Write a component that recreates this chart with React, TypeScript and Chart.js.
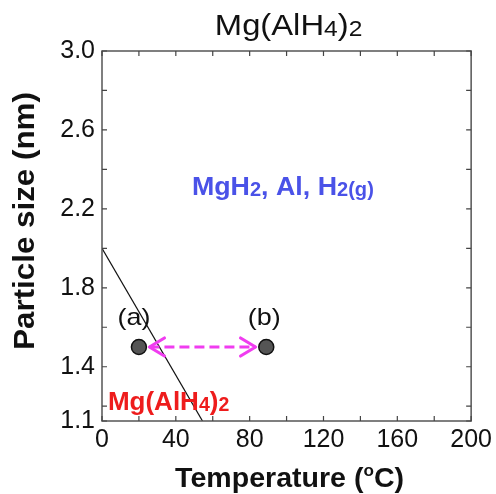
import React, { useEffect, useRef } from "react";
import { Chart, registerables } from "chart.js";

Chart.register(...registerables);

// ---- data ----
const xTickValues = [0, 20, 40, 60, 80, 100, 120, 140, 160, 180, 200];
const xTickLabels = ["0", "", "40", "", "80", "", "120", "", "160", "", "200"];
const yTickValues = [1.125, 1.2, 1.4, 1.6, 1.8, 2.0, 2.2, 2.4, 2.6, 2.8, 3.0];
const yTickLabels = ["1.1", "", "1.4", "", "1.8", "", "2.2", "", "2.6", "", "3.0"];

const boundaryX = [0, 56];
const boundaryY = [2.0, 1.1];

const pointX = [20, 89];
const pointY = [1.5, 1.5];
const pointLabels = ["(a)", "(b)"];

const arrowX = [25.7, 83.2];
const arrowY = [1.5, 1.5];

const X_MIN = 0, X_MAX = 200, Y_MIN = 1.125, Y_MAX = 3.0;

const FONT = '"Liberation Sans", Arial, sans-serif';

type Seg = { t: string; sub?: boolean; sup?: boolean };

function drawRich(ctx: CanvasRenderingContext2D, segs: Seg[], x: number, y: number, size: number, weight: string, color: string, align: "left" | "center", stretch = 1) {
  const szOf = (s: Seg) => (s.sub ? size * 0.75 : s.sup ? size * 0.6 : size);
  const widthOf = (s: Seg) => {
    ctx.font = `${weight} ${szOf(s)}px ${FONT}`;
    return ctx.measureText(s.t).width * stretch;
  };
  const total = segs.reduce((a, s) => a + widthOf(s), 0);
  let cx = align === "center" ? x - total / 2 : x;
  ctx.save();
  ctx.fillStyle = color;
  ctx.textBaseline = "alphabetic";
  ctx.textAlign = "left";
  for (const s of segs) {
    ctx.font = `${weight} ${szOf(s)}px ${FONT}`;
    const dy = s.sub ? size * 0.05 : s.sup ? -size * 0.4 : 0;
    ctx.save();
    ctx.translate(cx, y + dy);
    ctx.scale(stretch, 1);
    ctx.fillText(s.t, 0, 0);
    ctx.restore();
    cx += ctx.measureText(s.t).width * stretch;
  }
  ctx.restore();
  return total;
}

const overlayPlugin = {
  id: "overlay",
  afterDatasetsDraw(chart: any) {
    const ctx: CanvasRenderingContext2D = chart.ctx;
    const xs = chart.scales.x;
    const ys = chart.scales.y;
    const a = chart.chartArea;

    // frame
    ctx.save();
    ctx.strokeStyle = "#555";
    ctx.lineWidth = 1.5;
    ctx.strokeRect(a.left, a.top, a.right - a.left, a.bottom - a.top);
    // inward ticks
    ctx.strokeStyle = "#444";
    ctx.lineWidth = 1.2;
    const tl = 5;
    ctx.beginPath();
    for (const v of xTickValues) {
      const px = xs.getPixelForValue(v);
      ctx.moveTo(px, a.bottom);
      ctx.lineTo(px, a.bottom - tl);
      ctx.moveTo(px, a.top);
      ctx.lineTo(px, a.top + tl);
    }
    for (const v of yTickValues) {
      const py = ys.getPixelForValue(v);
      ctx.moveTo(a.left, py);
      ctx.lineTo(a.left + tl, py);
      ctx.moveTo(a.right, py);
      ctx.lineTo(a.right - tl, py);
    }
    ctx.stroke();
    ctx.restore();

    // arrowheads
    const meta = chart.getDatasetMeta(1);
    if (meta && meta.data.length === 2) {
      const p0 = meta.data[0];
      const p1 = meta.data[1];
      ctx.save();
      ctx.strokeStyle = "#f03cf0";
      ctx.lineWidth = 3.2;
      ctx.lineCap = "round";
      ctx.lineJoin = "round";
      const hl = 15, hw = 9;
      ctx.beginPath();
      ctx.moveTo(p0.x + hl, p0.y - hw);
      ctx.lineTo(p0.x, p0.y);
      ctx.lineTo(p0.x + hl, p0.y + hw);
      ctx.moveTo(p1.x - hl, p1.y - hw);
      ctx.lineTo(p1.x, p1.y);
      ctx.lineTo(p1.x - hl, p1.y + hw);
      ctx.stroke();
      ctx.restore();
    }
  },
  afterDraw(chart: any) {
    const ctx: CanvasRenderingContext2D = chart.ctx;
    const xs = chart.scales.x;
    const ys = chart.scales.y;
    const a = chart.chartArea;
    const cxArea = (a.left + a.right) / 2;

    // title
    drawRich(ctx, [{ t: "Mg(AlH" }, { t: "4", sub: true }, { t: ")" }, { t: "2", sub: true }], cxArea + 2, 35, 29, "normal", "#111", "center", 1.13);

    // x-axis title
    drawRich(ctx, [{ t: "Temperature (" }, { t: "o", sup: true }, { t: "C)" }], cxArea + 3, 487, 28, "bold", "#111", "center", 1.02);

    // y-axis title
    ctx.save();
    ctx.translate(34, (a.top + a.bottom) / 2 - 15);
    ctx.rotate(-Math.PI / 2);
    drawRich(ctx, [{ t: "Particle size (nm)" }], 0, 0, 29, "bold", "#111", "center", 1.08);
    ctx.restore();

    // region labels
    drawRich(ctx, [{ t: "MgH" }, { t: "2", sub: true }, { t: ", Al, H" }, { t: "2(g)", sub: true }], xs.getPixelForValue(98), ys.getPixelForValue(2.27), 26, "bold", "#4a52e8", "center", 1.03);
    drawRich(ctx, [{ t: "Mg(AlH" }, { t: "4", sub: true }, { t: ")" }, { t: "2", sub: true }], xs.getPixelForValue(3.2), ys.getPixelForValue(1.18), 26, "bold", "#ee1c1c", "left", 1.0);

    // point labels
    for (let i = 0; i < pointX.length; i++) {
      drawRich(ctx, [{ t: pointLabels[i] }], xs.getPixelForValue(pointX[i]) - 5 + i * 3, ys.getPixelForValue(pointY[i]) - 22, 24, "normal", "#111", "center", 1.12);
    }
  },
};

export default function App() {
  const ref = useRef<HTMLCanvasElement | null>(null);
  useEffect(() => {
    if (!ref.current) return;
    const chart = new Chart(ref.current, {
      type: "scatter",
      data: {
        datasets: [
          {
            type: "line",
            data: boundaryX.map((x, i) => ({ x, y: boundaryY[i] })),
            borderColor: "#111",
            borderWidth: 1.2,
            pointRadius: 0,
            fill: false,
            order: 3,
          } as any,
          {
            type: "line",
            data: arrowX.map((x, i) => ({ x, y: arrowY[i] })),
            borderColor: "#f03cf0",
            borderWidth: 3,
            borderDash: [10, 5],
            pointRadius: 0,
            fill: false,
            order: 2,
          } as any,
          {
            type: "scatter",
            data: pointX.map((x, i) => ({ x, y: pointY[i] })),
            backgroundColor: "#555",
            borderColor: "#111",
            borderWidth: 1.5,
            pointRadius: 7.5,
            order: 1,
          },
        ],
      },
      options: {
        animation: false,
        responsive: true,
        maintainAspectRatio: false,
        layout: { padding: { top: 51, right: 21, left: 0, bottom: 0 } },
        plugins: { legend: { display: false }, tooltip: { enabled: false }, title: { display: false } },
        scales: {
          x: {
            type: "linear",
            min: X_MIN,
            max: X_MAX,
            grid: { display: false, drawTicks: false },
            border: { display: false },
            afterBuildTicks: (s: any) => {
              s.ticks = xTickValues.map((v) => ({ value: v }));
            },
            afterFit: (s: any) => {
              s.height = 73;
            },
            ticks: {
              autoSkip: false,
              maxRotation: 0,
              padding: 4,
              color: "#111",
              font: { family: FONT, size: 25 },
              callback: (v: any) => {
                const i = xTickValues.indexOf(Number(v));
                return i >= 0 ? xTickLabels[i] : "";
              },
            },
          },
          y: {
            type: "linear",
            min: Y_MIN,
            max: Y_MAX,
            grid: { display: false, drawTicks: false },
            border: { display: false },
            afterBuildTicks: (s: any) => {
              s.ticks = yTickValues.map((v) => ({ value: v }));
            },
            afterFit: (s: any) => {
              s.width = 102;
            },
            ticks: {
              autoSkip: false,
              padding: 7,
              color: "#111",
              font: { family: FONT, size: 25 },
              callback: (v: any) => {
                const i = yTickValues.findIndex((t) => Math.abs(t - Number(v)) < 1e-6);
                return i >= 0 ? yTickLabels[i] : "";
              },
            },
          },
        },
      },
      plugins: [overlayPlugin],
    } as any);
    return () => chart.destroy();
  }, []);
  return (
    <div style={{ position: "absolute", left: 0, top: 0, width: 496, height: 494, background: "#fff" }}>
      <canvas ref={ref} />
    </div>
  );
}
